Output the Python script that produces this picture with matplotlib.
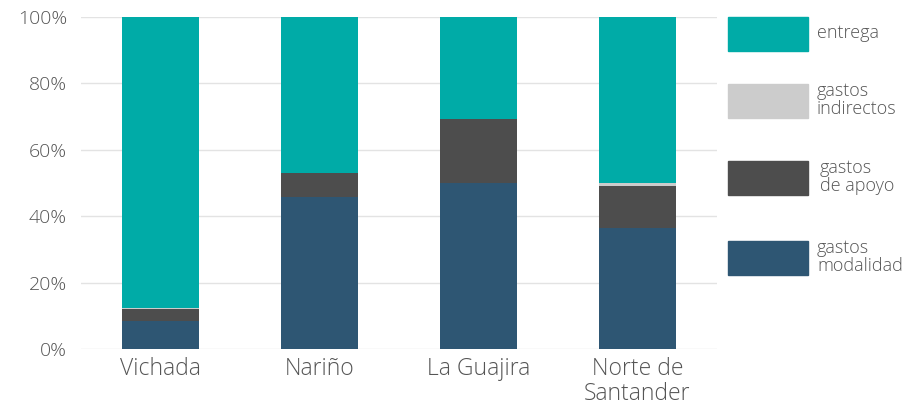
import matplotlib.pyplot as plt
from matplotlib.patches import Rectangle

plt.rcParams['font.family'] = ['Open Sans', 'DejaVu Sans']
plt.rcParams['font.weight'] = 'light'

regiones = ["Vichada", "Nariño", "La Guajira", "Norte de\nSantander"]
modalidad = [8.4, 45.8, 50.0, 36.4]
apoyo = [3.5, 7.3, 19.3, 12.7]
indirectos = [0.3, 0.0, 0.0, 0.9]
entrega = [87.8, 46.9, 30.7, 50.0]

colores = ["#2e5673", "#4d4d4d", "#cccccc", "#00aba7"]
texto = "#555555"

fig = plt.figure(figsize=(9.17, 4.07), dpi=100)
ax = fig.add_axes([81/917, 58/407, 636/917, 332/407])

x = range(len(regiones))
base = [0.0] * len(regiones)
for vals, col in zip([modalidad, apoyo, indirectos, entrega], colores):
    ax.bar(x, vals, bottom=base, width=0.486, color=col, zorder=3)
    base = [b + v for b, v in zip(base, vals)]

ax.set_xlim(-0.5, 3.5)
ax.set_ylim(0, 100)
ax.set_yticks(range(0, 101, 20))
ax.set_yticklabels([f"{v}%" for v in range(0, 101, 20)], fontsize=14, color=texto)
ax.set_xticks(list(x))
ax.set_xticklabels(regiones, fontsize=16.5, color=texto, linespacing=1.05)
ax.tick_params(length=0)
ax.tick_params(axis="y", pad=10)
ax.tick_params(axis="x", pad=6)
ax.grid(axis="y", color="#e3e3e3", linewidth=1, zorder=0)
for s in ax.spines.values():
    s.set_visible(False)

# leyenda a mano
ys = [17, 84, 161, 241]
labels = ["entrega", "gastos\nindirectos", "gastos\nde apoyo", "gastos\nmodalidad"]
cols = ["#00aba7", "#cccccc", "#4d4d4d", "#2e5673"]
xs = [817, 817, 820, 817]
for yp, xp, lab, col in zip(ys, xs, labels, cols):
    fig.add_artist(Rectangle((728/917, 1 - (yp + 34)/407), 80/917, 34/407,
                             transform=fig.transFigure, color=col))
    fig.text(xp/917, 1 - (yp + 16)/407, lab, fontsize=13, color=texto,
             va="center", ha="left", linespacing=1.0)

fig.savefig("out.png", dpi=100)
